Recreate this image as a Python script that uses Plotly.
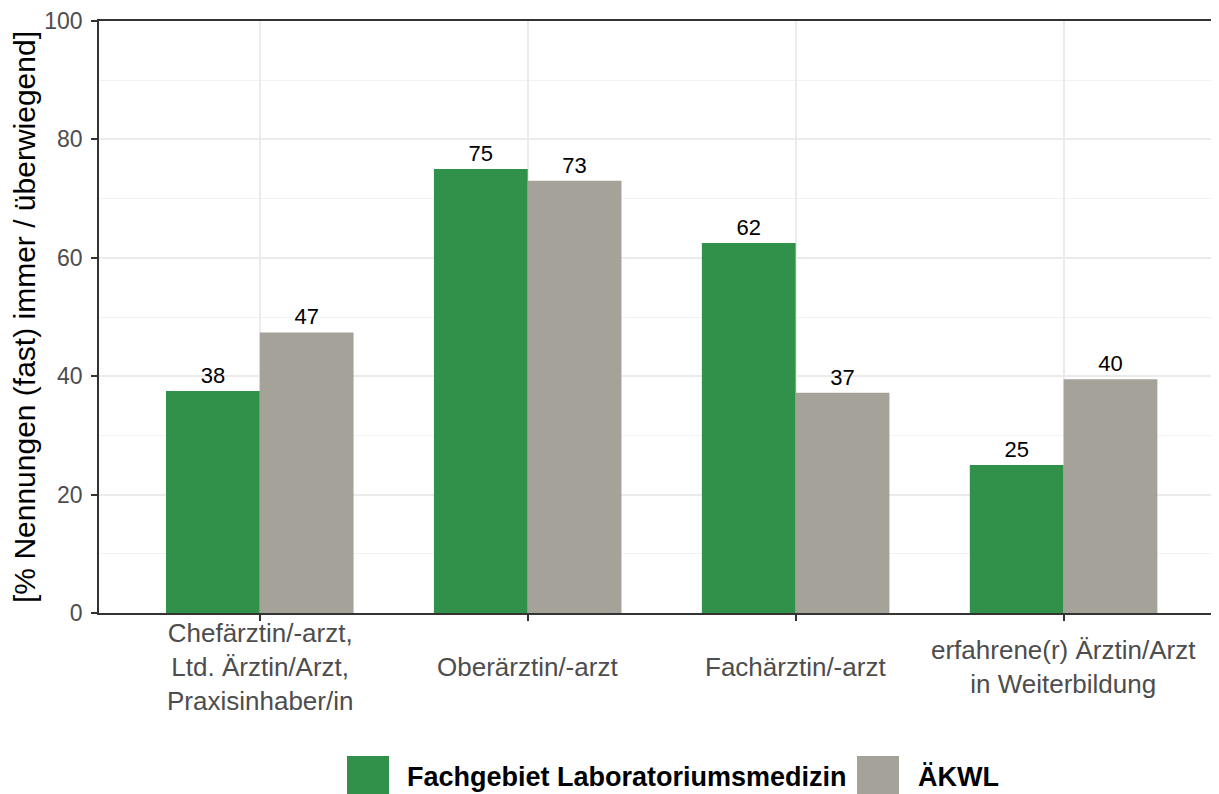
import plotly.graph_objects as go

categories = [
    "Chefärztin/-arzt,<br>Ltd. Ärztin/Arzt,<br>Praxisinhaber/in",
    "Oberärztin/-arzt",
    "Fachärztin/-arzt",
    "erfahrene(r) Ärztin/Arzt<br>in Weiterbildung",
]
series_names = ["Fachgebiet Laboratoriumsmedizin", "ÄKWL"]
lab_values = [37.5, 75.0, 62.5, 25.0]
akwl_values = [47.4, 73.0, 37.2, 39.5]
lab_labels = ["38", "75", "62", "25"]
akwl_labels = ["47", "73", "37", "40"]
y_ticks = [0, 20, 40, 60, 80, 100]

GREEN = "#31904A"
GREY = "#A5A29A"
FONT = "Liberation Sans, Arial, sans-serif"

# the page body has an 8px margin, so the figure is shrunk by that much
OFF = 8
FIG_W, FIG_H = 1219 - OFF, 794 - OFF
L, T, W, H = 99 - OFF, 21 - OFF, 1120, 592


# page-pixel -> paper coords for the hand-drawn legend / category labels
def px(x):
    return (x - OFF - L) / W


def py(y):
    return (T + H - (y - OFF)) / H


fig = go.Figure()
fig.add_trace(go.Bar(
    x=categories, y=lab_values, name=series_names[0],
    marker=dict(color=GREEN, line=dict(width=0)),
    text=lab_labels, textposition="outside",
    textfont=dict(size=22, color="black", family=FONT),
    cliponaxis=False, showlegend=False,
))
fig.add_trace(go.Bar(
    x=categories, y=akwl_values, name=series_names[1],
    marker=dict(color=GREY, line=dict(width=0)),
    text=akwl_labels, textposition="outside",
    textfont=dict(size=22, color="black", family=FONT),
    cliponaxis=False, showlegend=False,
))

# category labels, vertically centred like ggplot
annotations = []
for c in categories:
    annotations.append(dict(
        x=c, xref="x", y=py(667), yref="paper", text=c, showarrow=False,
        xanchor="center", yanchor="middle", align="center",
        font=dict(size=26, color="#4D4D4D", family=FONT),
    ))

# legend
shapes = []
legend_items = [(347, 405, GREEN, series_names[0]), (857, 916, GREY, series_names[1])]
for x0, tx, col, name in legend_items:
    shapes.append(dict(type="rect", xref="paper", yref="paper",
                       x0=px(x0), x1=px(x0 + 42), y0=py(756), y1=py(797),
                       fillcolor=col, line=dict(width=0)))
    annotations.append(dict(
        x=px(tx), xref="paper", y=py(777), yref="paper", text="<b>%s</b>" % name,
        showarrow=False, xanchor="left", yanchor="middle",
        font=dict(size=27, color="black", family=FONT),
    ))

fig.update_layout(
    barmode="group", bargap=0.3, bargroupgap=0,
    width=FIG_W, height=FIG_H,
    margin=dict(l=L, r=FIG_W - L - W, t=T, b=FIG_H - T - H, pad=0),
    plot_bgcolor="white", paper_bgcolor="white",
    font=dict(family=FONT, color="#4D4D4D"),
    shapes=shapes, annotations=annotations,
    showlegend=False,
)
fig.update_xaxes(
    range=[-0.6, 3.58], showticklabels=False,
    showgrid=True, gridcolor="#EBEBEB", gridwidth=1.5,
    showline=True, linecolor="#333333", linewidth=1.5, mirror=True,
    ticks="outside", ticklen=6, tickcolor="#333333", tickwidth=1.5,
    zeroline=False,
)
fig.update_yaxes(
    range=[0, 100], tickvals=y_ticks,
    tickfont=dict(size=23, color="#4D4D4D"), ticklabelstandoff=4,
    showgrid=True, gridcolor="#EBEBEB", gridwidth=1.5,
    minor=dict(dtick=10, showgrid=True, gridcolor="#F2F2F2", gridwidth=1),
    showline=True, linecolor="#333333", linewidth=1.5,
    ticks="outside", ticklen=6, tickcolor="#333333", tickwidth=1.5,
    zeroline=False,
    title=dict(text="[% Nennungen (fast) immer / überwiegend]",
               font=dict(size=30, color="black"), standoff=6),
)

fig.write_html("out.html")
